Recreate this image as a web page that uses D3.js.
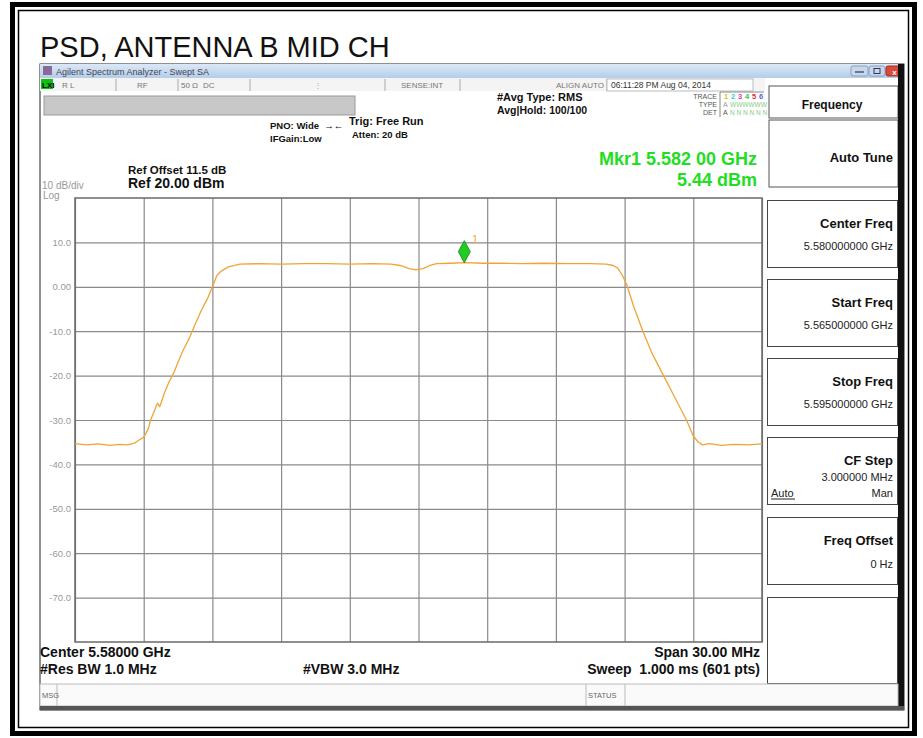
<!DOCTYPE html>
<html><head><meta charset="utf-8">
<script src="https://cdn.jsdelivr.net/npm/d3@7"></script>
<style>
body{margin:0;background:#fff}
svg{display:block}
text{font-family:"Liberation Sans",Arial,sans-serif;white-space:pre}
</style>
</head><body>
<svg id="c" width="923" height="738"></svg>
<script>
// ---------------- data ----------------
const chartTitle = "PSD, ANTENNA B MID CH";
const freqGHz = [5.5650,5.5655,5.5660,5.5665,5.5670,5.5673,5.5676,5.5678,5.5680,5.5682,5.5683,5.5685,5.5686,5.5687,5.5689,5.5691,5.5693,5.5695,5.5697,5.5700,5.5702,5.5705,5.5708,5.5710,5.5712,5.5714,5.5717,5.5722,5.5730,5.5740,5.5750,5.5760,5.5770,5.5780,5.5788,5.5792,5.5796,5.5799,5.5802,5.5805,5.5808,5.5814,5.5820,5.5828,5.5836,5.5845,5.5855,5.5865,5.5875,5.5882,5.5885,5.5887,5.5889,5.5891,5.5894,5.5898,5.5902,5.5907,5.5912,5.5917,5.5920,5.5922,5.5924,5.5927,5.5932,5.5938,5.5944,5.5950];
const levelDbm = [-35.3,-35.6,-35.4,-35.7,-35.5,-35.6,-35.2,-34.5,-33.9,-32.0,-30.0,-27.5,-26.2,-27.0,-24.0,-21.5,-19.5,-17.0,-14.5,-11.5,-9.0,-5.5,-2.5,0.0,2.6,3.6,4.5,5.1,5.2,5.1,5.2,5.2,5.1,5.2,5.1,4.8,4.1,3.8,4.1,4.8,5.2,5.3,5.44,5.3,5.3,5.2,5.3,5.2,5.2,5.1,4.8,4.2,2.6,0.4,-4.5,-10.0,-15.0,-20.0,-25.0,-30.0,-33.6,-34.9,-35.6,-35.3,-35.7,-35.5,-35.6,-35.4];
const xGridGHz = [5.565,5.568,5.571,5.574,5.577,5.580,5.583,5.586,5.589,5.592,5.595];
const yTickDbm = [10,0,-10,-20,-30,-40,-50,-60,-70];
const yTickLabels = ["10.0","0.00","-10.0","-20.0","-30.0","-40.0","-50.0","-60.0","-70.0"];
const markerFreqGHz = 5.582;
const markerDbm = 5.44;
const markerLines = ["Mkr1 5.582 00 GHz","5.44 dBm"];
const softkeyTitles = ["Center Freq","Start Freq","Stop Freq","CF Step","Freq Offset"];
const softkeyValues = ["5.580000000 GHz","5.565000000 GHz","5.595000000 GHz","3.000000 MHz","0 Hz"];
const bottomLeft = ["Center 5.58000 GHz","#Res BW 1.0 MHz"];
const bottomMid = "#VBW 3.0 MHz";
const bottomRight = ["Span 30.00 MHz","Sweep  1.000 ms (601 pts)"];
const traceNums = ["1","2","3","4","5","6"];
const traceColors = ["#e0c000","#30d0d0","#e040a0","#40c040","#e03030","#6060e0"];

// ---------------- layers ----------------
const svg = d3.select("#c");
const bg = svg.append("g");
const plot = svg.append("g");
const sk = svg.append("g");
const txt = svg.append("g");

// outer frame
bg.append("rect").attr("x",12.5).attr("y",4.5).attr("width",902).attr("height",729).attr("fill","none").attr("stroke","#000").attr("stroke-width",5);
bg.append("rect").attr("x",18.5).attr("y",10.5).attr("width",890).attr("height",717).attr("fill","none").attr("stroke","#000").attr("stroke-width",1.5);

const t = (x,y,s,str,opt={})=>txt.append("text").attr("x",x).attr("y",y).attr("font-size",s)
  .attr("font-weight",opt.bold?"bold":null).attr("text-anchor",opt.anchor||"start").attr("fill",opt.fill||"#111").text(str);

t(40,57,29,chartTitle);

// window
bg.append("rect").attr("x",40).attr("y",64).attr("width",864).attr("height",646).attr("fill","#fff").attr("stroke","#222").attr("stroke-width",1);
const grad = svg.append("defs").append("linearGradient").attr("id","tb").attr("x1",0).attr("y1",0).attr("x2",0).attr("y2",1);
grad.append("stop").attr("offset","0%").attr("stop-color","#dbe8f6");
grad.append("stop").attr("offset","100%").attr("stop-color","#b5cde8");
bg.append("rect").attr("x",40).attr("y",64).attr("width",864).attr("height",14).attr("fill","url(#tb)");
bg.append("rect").attr("x",43).attr("y",66).attr("width",9).attr("height",9).attr("fill","#8a6a9a");
t(56,74.5,9,"Agilent Spectrum Analyzer - Swept SA",{fill:"#445"});
// window buttons
bg.append("rect").attr("x",851).attr("y",66).attr("width",17).attr("height",10).attr("rx",2).attr("fill","#c8d8ec").attr("stroke","#8aa0bc");
bg.append("rect").attr("x",869).attr("y",66).attr("width",16).attr("height",10).attr("rx",2).attr("fill","#c8d8ec").attr("stroke","#8aa0bc");
bg.append("rect").attr("x",886).attr("y",66).attr("width",17).attr("height",10).attr("rx",2).attr("fill","#d84a3a").attr("stroke","#a03020");
bg.append("line").attr("x1",855).attr("x2",864).attr("y1",72).attr("y2",72).attr("stroke","#335").attr("stroke-width",1.2);
bg.append("rect").attr("x",874).attr("y",68.5).attr("width",6).attr("height",5).attr("fill","none").attr("stroke","#335");
t(894.5,74.5,8,"x",{anchor:"middle",fill:"#fff",bold:true});

// status row
bg.append("rect").attr("x",40).attr("y",78).attr("width",725).attr("height",13).attr("fill","#f4f4f4");
bg.append("rect").attr("x",41).attr("y",79).attr("width",12).attr("height",10).attr("fill","#10c010");
t(42,87.5,8,"LXI",{bold:true,fill:"#000"});
const statusTexts = [[62,"R L"],[137,"RF"],[181,"50 Ω"],[203,"DC"],[401,"SENSE:INT"],[556,"ALIGN AUTO"]];
statusTexts.forEach(d=>t(d[0],87.5,8,d[1],{fill:"#777"}));
[116,178,250,385,460,607].forEach(x=>bg.append("line").attr("x1",x).attr("x2",x).attr("y1",79).attr("y2",91).attr("stroke","#aaa"));
t(314,88,8,"⋮",{fill:"#aaa"});
bg.append("rect").attr("x",607).attr("y",79).attr("width",146).attr("height",12).attr("fill","#fff").attr("stroke","#bbb");
t(611,88,8.5,"06:11:28 PM Aug 04, 2014",{fill:"#333"});

// gray bar
bg.append("rect").attr("x",44).attr("y",96).attr("width",311).attr("height",19).attr("fill","#c8c8c8").attr("stroke","#999");

// settings text
t(270,129,9.5,"PNO: Wide  →←",{bold:true});
t(270,142,9.5,"IFGain:Low",{bold:true});
t(349,125,11,"Trig: Free Run",{bold:true});
t(352,138,9.5,"Atten: 20 dB",{bold:true});
t(497,101,11,"#Avg Type: RMS",{bold:true});
t(497,114,10.5,"Avg|Hold: 100/100",{bold:true});
// trace table
t(717,99,7,"TRACE",{anchor:"end",fill:"#555"});
t(717,107,7,"TYPE",{anchor:"end",fill:"#555"});
t(717,115,7,"DET",{anchor:"end",fill:"#555"});
bg.append("line").attr("x1",720).attr("x2",720).attr("y1",92).attr("y2",117).attr("stroke","#888");
bg.append("line").attr("x1",720).attr("x2",764).attr("y1",92).attr("y2",92).attr("stroke","#888");
traceNums.forEach((n,i)=>t(724+i*7,99,7.5,n,{fill:traceColors[i],bold:true}));
t(723,107,7,"A",{fill:"#999"});
t(730,107,6.5,"WWWWWW",{fill:"#8c8"});
t(723,115,7,"A",{fill:"#555"});
t(730,115,6.5,"N N N N N N",{fill:"#8c8"});

// marker readout
t(757,165,18,markerLines[0],{bold:true,anchor:"end",fill:"#22dd22"});
t(757,186,18,markerLines[1],{bold:true,anchor:"end",fill:"#22dd22"});

// ref text
t(128,174,11.5,"Ref Offset 11.5 dB",{bold:true});
t(128,188,14,"Ref 20.00 dBm",{bold:true});
t(42,189,10,"10 dB/div",{fill:"#999"});
t(43,199,10,"Log",{fill:"#999"});

// ---------------- plot ----------------
const PL=75, PR=762, PT=198, PB=642;
const x = d3.scaleLinear().domain([xGridGHz[0], xGridGHz[xGridGHz.length-1]]).range([PL,PR]);
const y = d3.scaleLinear().domain([-80,20]).range([PB,PT]);

plot.append("rect").attr("x",PL).attr("y",PT).attr("width",PR-PL).attr("height",PB-PT).attr("fill","#fff");

const gx = plot.append("g").attr("transform",`translate(0,${PB})`)
  .call(d3.axisBottom(x).tickValues(xGridGHz).tickSize(-(PB-PT)).tickFormat(""));
gx.select(".domain").remove();
gx.selectAll("line").attr("stroke","#8a8a8a").attr("stroke-width",1.2);

const gy = plot.append("g").attr("transform",`translate(${PL},0)`)
  .call(d3.axisLeft(y).tickValues(yTickDbm).tickSize(-(PR-PL)).tickPadding(4).tickFormat((d,i)=>yTickLabels[i]));
gy.select(".domain").remove();
gy.selectAll("line").attr("stroke","#8a8a8a").attr("stroke-width",1.2);
gy.selectAll("text").attr("font-size",9.5).attr("fill","#999").attr("font-family","'Liberation Sans',Arial,sans-serif");

plot.append("rect").attr("x",PL).attr("y",PT).attr("width",PR-PL).attr("height",PB-PT).attr("fill","none").attr("stroke","#6a6a6a").attr("stroke-width",1.5);

const line = d3.line().x((d,i)=>x(freqGHz[i])).y((d,i)=>y(levelDbm[i]));
plot.append("path").datum(levelDbm).attr("d",line).attr("fill","none").attr("stroke","#f2a336").attr("stroke-width",1.3).attr("stroke-linejoin","round");

// marker diamond
const mx = x(markerFreqGHz), my = y(markerDbm);
plot.append("path").attr("d",`M${mx},${my} L${mx+6},${my-11} L${mx},${my-22} L${mx-6},${my-11} Z`).attr("fill","#22cc22").attr("stroke","#118811").attr("stroke-width",0.8);
plot.append("text").attr("x",mx+8).attr("y",my-20).attr("font-size",10).attr("fill","#f2a336").text("1");

// ---------------- softkeys ----------------
sk.append("rect").attr("x",769).attr("y",86).attr("width",129).attr("height",32).attr("fill","#fff").attr("stroke","#555");
t(832,109,12,"Frequency",{bold:true,anchor:"middle"});
sk.append("rect").attr("x",769).attr("y",120).attr("width",129).attr("height",67).attr("fill","#fff").attr("stroke","#555");
t(893,162,13,"Auto Tune",{bold:true,anchor:"end"});
const boxTop = [200,279,358,437,517];
softkeyTitles.forEach((s,i)=>{
  const b = boxTop[i];
  sk.append("rect").attr("x",767.5).attr("y",b+0.5).attr("width",130).attr("height",67).attr("fill","#fff").attr("stroke","#444");
  t(893,b+28,13,s,{bold:true,anchor:"end"});
  if(i===3){
    t(893,b+44,11,softkeyValues[i],{anchor:"end",fill:"#222"});
    t(771,b+60,11,"Auto",{fill:"#222"});
    sk.append("line").attr("x1",771).attr("x2",795).attr("y1",b+62).attr("y2",b+62).attr("stroke","#222");
    t(893,b+60,11,"Man",{anchor:"end",fill:"#222"});
  } else if(i===4){
    t(893,b+51,11,softkeyValues[i],{anchor:"end",fill:"#222"});
  } else {
    t(893,b+50,11,softkeyValues[i],{anchor:"end",fill:"#222"});
  }
});
sk.append("rect").attr("x",767.5).attr("y",597.5).attr("width",130).attr("height",86).attr("fill","#fff").attr("stroke","#444");
sk.append("rect").attr("x",898).attr("y",64).attr("width",6).attr("height",646).attr("fill","#111");

// ---------------- bottom ----------------
t(40,657,14,bottomLeft[0],{bold:true});
t(40,674,14,bottomLeft[1],{bold:true});
t(303,674,14,bottomMid,{bold:true});
t(760,657,14,bottomRight[0],{bold:true,anchor:"end"});
t(760,674,14,bottomRight[1],{bold:true,anchor:"end"});
sk.append("rect").attr("x",40).attr("y",684).attr("width",858).attr("height",22).attr("fill","#fafafa").attr("stroke","#bbb");
t(42,698,7.5,"MSG",{fill:"#666"});
sk.append("line").attr("x1",57).attr("x2",57).attr("y1",684).attr("y2",706).attr("stroke","#bbb");
sk.append("line").attr("x1",586).attr("x2",586).attr("y1",684).attr("y2",706).attr("stroke","#bbb");
sk.append("line").attr("x1",625).attr("x2",625).attr("y1",684).attr("y2",706).attr("stroke","#bbb");
t(588,698,7.5,"STATUS",{fill:"#666"});
sk.append("rect").attr("x",40).attr("y",706).attr("width",864).attr("height",4).attr("fill","#555");
</script>
</body></html>
